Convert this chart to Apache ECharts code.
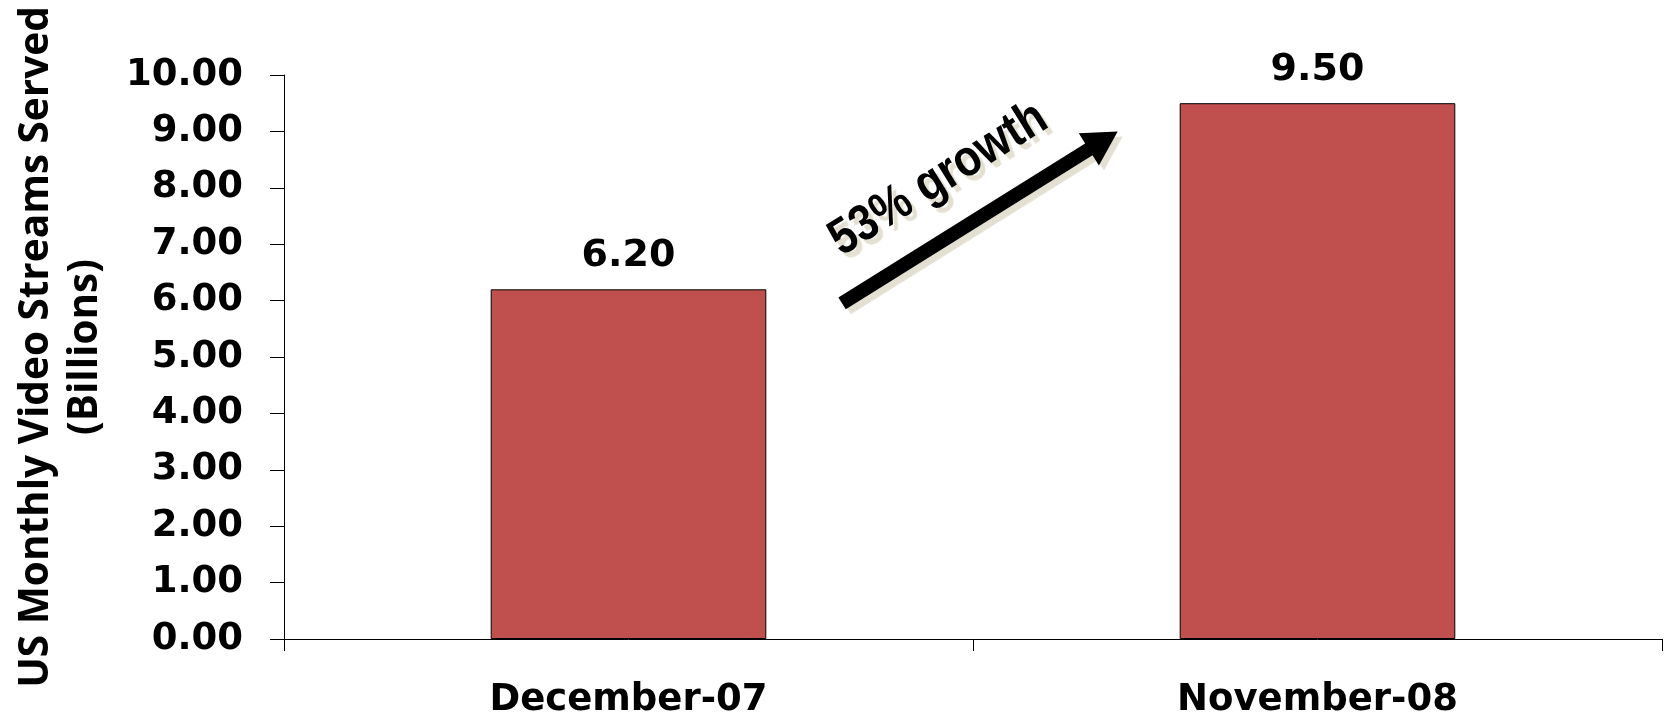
<!DOCTYPE html>
<html>
<head>
<meta charset="utf-8">
<script src="https://cdn.jsdelivr.net/npm/echarts@6/dist/echarts.min.js"></script>
<style>
html, body { margin: 0; padding: 0; background: #fff; }
#bar-1 { width: 1669px; height: 716px; }
</style>
</head>
<body>
<div id="bar-1"></div>
<script>
let months = ['December-07', 'November-08'];
let streams = [6.20, 9.50];
let axisMin = 0, axisMax = 10, axisStep = 1;
let growthText = '53% growth';

let chartBox = document.getElementById('bar-1');
let myChart = echarts.init(chartBox);

let tickFont = 'DejaVu Sans, sans-serif';

let option = {
    animation: false,
    backgroundColor: '#fff',
    grid: { left: 284, right: 7, top: 75, bottom: 77, outerBoundsMode: 'none', containLabel: false },
    xAxis: {
        type: 'category',
        data: months,
        axisLine: { lineStyle: { color: '#000', width: 1 } },
        axisTick: { show: true, length: 12, lineStyle: { color: '#000' } },
        axisLabel: {
            margin: 43,
            color: '#000',
            fontFamily: tickFont,
            fontWeight: 'bold',
            fontSize: 37
        }
    },
    yAxis: {
        type: 'value',
        min: axisMin,
        max: axisMax,
        interval: axisStep,
        name: 'US Monthly Video Streams Served\n(Billions)',
        nameLocation: 'middle',
        nameRotate: 90,
        nameGap: 174,
        nameMoveOverlap: false,
        nameTextStyle: {
            color: '#000',
            fontFamily: 'Open Sans, sans-serif',
            fontWeight: 'bold',
            fontSize: 40.5,
            lineHeight: 49,
            padding: [0, 0, 0, 20]
        },
        splitLine: { show: false },
        axisLine: { show: true, lineStyle: { color: '#000', width: 1 } },
        axisTick: { show: true, length: 14, lineStyle: { color: '#000' } },
        axisLabel: {
            margin: 41,
            color: '#000',
            fontFamily: tickFont,
            fontWeight: 'bold',
            fontSize: 37,
            formatter: function (v) { return v.toFixed(2); }
        }
    },
    series: [{
        type: 'bar',
        data: streams,
        barWidth: '40%',
        itemStyle: { color: '#C0504D', borderColor: '#000', borderWidth: 1 },
        label: {
            show: true,
            position: 'top',
            distance: 14,
            color: '#000',
            fontFamily: tickFont,
            fontWeight: 'bold',
            fontSize: 38,
            formatter: function (p) { return p.value.toFixed(2); }
        }
    }]
};
myChart.setOption(option);

// growth arrow between the bars (positions in category / value units)
function toPx(catPos, val) {
    let x0 = myChart.convertToPixel({ xAxisIndex: 0 }, 0);
    let x1 = myChart.convertToPixel({ xAxisIndex: 0 }, 1);
    return [x0 + (x1 - x0) * catPos, myChart.convertToPixel({ yAxisIndex: 0 }, val)];
}
let tail = toPx(0.31, 5.95);
let tip = toPx(0.71, 9.0);
let dx = tip[0] - tail[0], dy = tip[1] - tail[1];
let len = Math.sqrt(dx * dx + dy * dy);
let ux = dx / len, uy = dy / len;
let nx = -uy, ny = ux;
let shaft = 7, head = 19, headLen = 34;
let neck = [tip[0] - ux * headLen, tip[1] - uy * headLen];
let arrowPts = [
    [tail[0] + nx * shaft, tail[1] + ny * shaft],
    [neck[0] + nx * shaft, neck[1] + ny * shaft],
    [neck[0] + nx * head, neck[1] + ny * head],
    tip,
    [neck[0] - nx * head, neck[1] - ny * head],
    [neck[0] - nx * shaft, neck[1] - ny * shaft],
    [tail[0] - nx * shaft, tail[1] - ny * shaft]
];
let textPos = toPx(0.45, 8.15);
let angle = Math.atan2(-dy, dx);

myChart.setOption({
    graphic: [
        {
            type: 'polygon',
            shape: { points: arrowPts },
            style: {
                fill: '#000',
                shadowColor: '#e3e0d2',
                shadowOffsetX: 5,
                shadowOffsetY: 5,
                shadowBlur: 1
            },
            z: 10
        },
        {
            type: 'text',
            x: textPos[0],
            y: textPos[1],
            rotation: angle,
            scaleX: 0.86,
            style: {
                text: growthText,
                fill: '#000',
                font: 'bold 51px "Liberation Sans", Arial, sans-serif',
                align: 'center',
                verticalAlign: 'middle',
                textShadowColor: '#e3e0d2',
                textShadowOffsetX: 5,
                textShadowOffsetY: 5,
                textShadowBlur: 1
            },
            z: 10
        }
    ]
});
</script>
</body>
</html>
